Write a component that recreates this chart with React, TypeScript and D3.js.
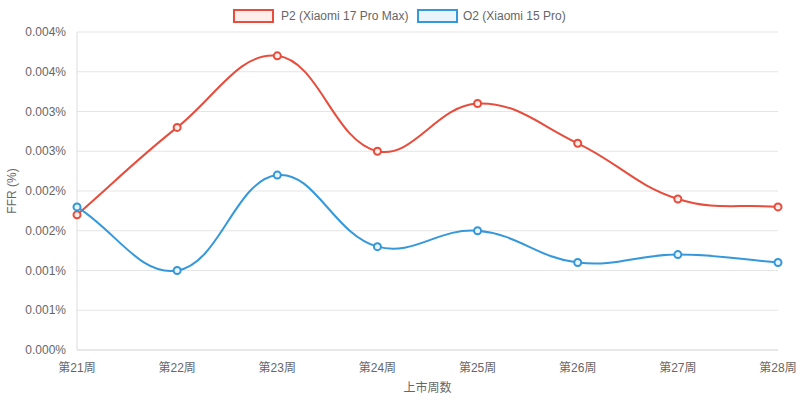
import React, { useEffect } from "react";
import * as d3 from "d3";

const weeks = ["第21周", "第22周", "第23周", "第24周", "第25周", "第26周", "第27周", "第28周"];
const p2Values = [0.0017, 0.0028, 0.0037, 0.0025, 0.0031, 0.0026, 0.0019, 0.0018];
const o2Values = [0.0018, 0.001, 0.0022, 0.0013, 0.0015, 0.0011, 0.0012, 0.0011];
const yTicks = [0, 0.0005, 0.001, 0.0015, 0.002, 0.0025, 0.003, 0.0035, 0.004];

const series = [
  { name: "P2 (Xiaomi 17 Pro Max)", values: p2Values, color: "#e74c3c", fill: "rgba(231,76,60,0.1)" },
  { name: "O2 (Xiaomi 15 Pro)", values: o2Values, color: "#3498db", fill: "rgba(52,152,219,0.1)" },
];

const width = 800;
const height = 401;
const area = { left: 77, right: 778, top: 32, bottom: 350 };
const font = "Helvetica, Arial, 'Liberation Sans', 'Noto Sans CJK SC', sans-serif";

// chart.js style spline (tension 0.4)
function splinePath(pts: [number, number][], t = 0.4) {
  const ctrl = pts.map((p, i) => {
    const prev = pts[i - 1] || p;
    const next = pts[i + 1] || p;
    const d01 = Math.hypot(p[0] - prev[0], p[1] - prev[1]);
    const d12 = Math.hypot(next[0] - p[0], next[1] - p[1]);
    const sum = d01 + d12 || 1;
    const fa = (t * d01) / sum;
    const fb = (t * d12) / sum;
    const clampY = (y: number) => Math.max(area.top, Math.min(area.bottom, y));
    return {
      prev: [p[0] - fa * (next[0] - prev[0]), clampY(p[1] - fa * (next[1] - prev[1]))],
      next: [p[0] + fb * (next[0] - prev[0]), clampY(p[1] + fb * (next[1] - prev[1]))],
    };
  });
  const path = d3.path();
  pts.forEach((p, i) => {
    if (i === 0) path.moveTo(p[0], p[1]);
    else {
      const a = ctrl[i - 1].next;
      const b = ctrl[i].prev;
      path.bezierCurveTo(a[0], a[1], b[0], b[1], p[0], p[1]);
    }
  });
  return path.toString();
}

const App: React.FC = () => {
  useEffect(() => {
    document.body.style.margin = "0";
  }, []);

  const x = d3.scalePoint().domain(weeks).range([area.left, area.right]);
  const y = d3.scaleLinear().domain([0, 0.004]).range([area.bottom, area.top]);
  const fmt = (v: number) => v.toFixed(3) + "%";

  const legendItems = [
    { x: 233, textX: 281 },
    { x: 417, textX: 463 },
  ];

  return (
    <svg width={width} height={height} style={{ display: "block", fontFamily: font }}>
      {/* legend */}
      {series.map((s, i) => (
        <g key={s.name}>
          <rect
            x={legendItems[i].x + 1}
            y={10}
            width={39}
            height={12}
            fill={s.fill}
            stroke={s.color}
            strokeWidth={2}
          />
          <text x={legendItems[i].textX} y={16} dy="0.35em" fontSize={12} fill="#666">
            {s.name}
          </text>
        </g>
      ))}

      {/* y grid */}
      {yTicks.map((t, i) => (
        <g key={i}>
          <line x1={area.left} x2={area.right} y1={y(t)} y2={y(t)} stroke="#e5e5e5" />
          <text x={66} y={y(t)} dy="0.35em" textAnchor="end" fontSize={12} fill="#666">
            {fmt(t)}
          </text>
        </g>
      ))}
      <line x1={area.left} x2={area.left} y1={area.top} y2={area.bottom} stroke="#ddd" />
      <line x1={area.left} x2={area.right} y1={area.bottom} y2={area.bottom} stroke="#ddd" />

      {/* x labels */}
      {weeks.map((w) => (
        <text key={w} x={x(w)} y={368} dy="0.35em" textAnchor="middle" fontSize={12} fill="#666">
          {w}
        </text>
      ))}
      <text x={(area.left + area.right) / 2} y={388} dy="0.35em" textAnchor="middle" fontSize={12} fill="#666">
        上市周数
      </text>
      <text
        transform={`translate(12,${(area.top + area.bottom) / 2}) rotate(-90)`}
        dy="0.35em"
        textAnchor="middle"
        fontSize={12}
        fill="#666"
      >
        FFR (%)
      </text>

      {/* lines */}
      {series.map((s) => {
        const pts = s.values.map((v, i) => [x(weeks[i]) as number, y(v)] as [number, number]);
        return (
          <g key={s.name}>
            <path d={splinePath(pts)} fill="none" stroke={s.color} strokeWidth={2} />
            {pts.map((p, i) => (
              <circle key={i} cx={p[0]} cy={p[1]} r={3.5} fill="#fff" stroke={s.color} strokeWidth={2} />
            ))}
            {pts.map((p, i) => (
              <circle key={"f" + i} cx={p[0]} cy={p[1]} r={3.5} fill={s.fill} stroke="none" />
            ))}
          </g>
        );
      })}
    </svg>
  );
};

export default App;
